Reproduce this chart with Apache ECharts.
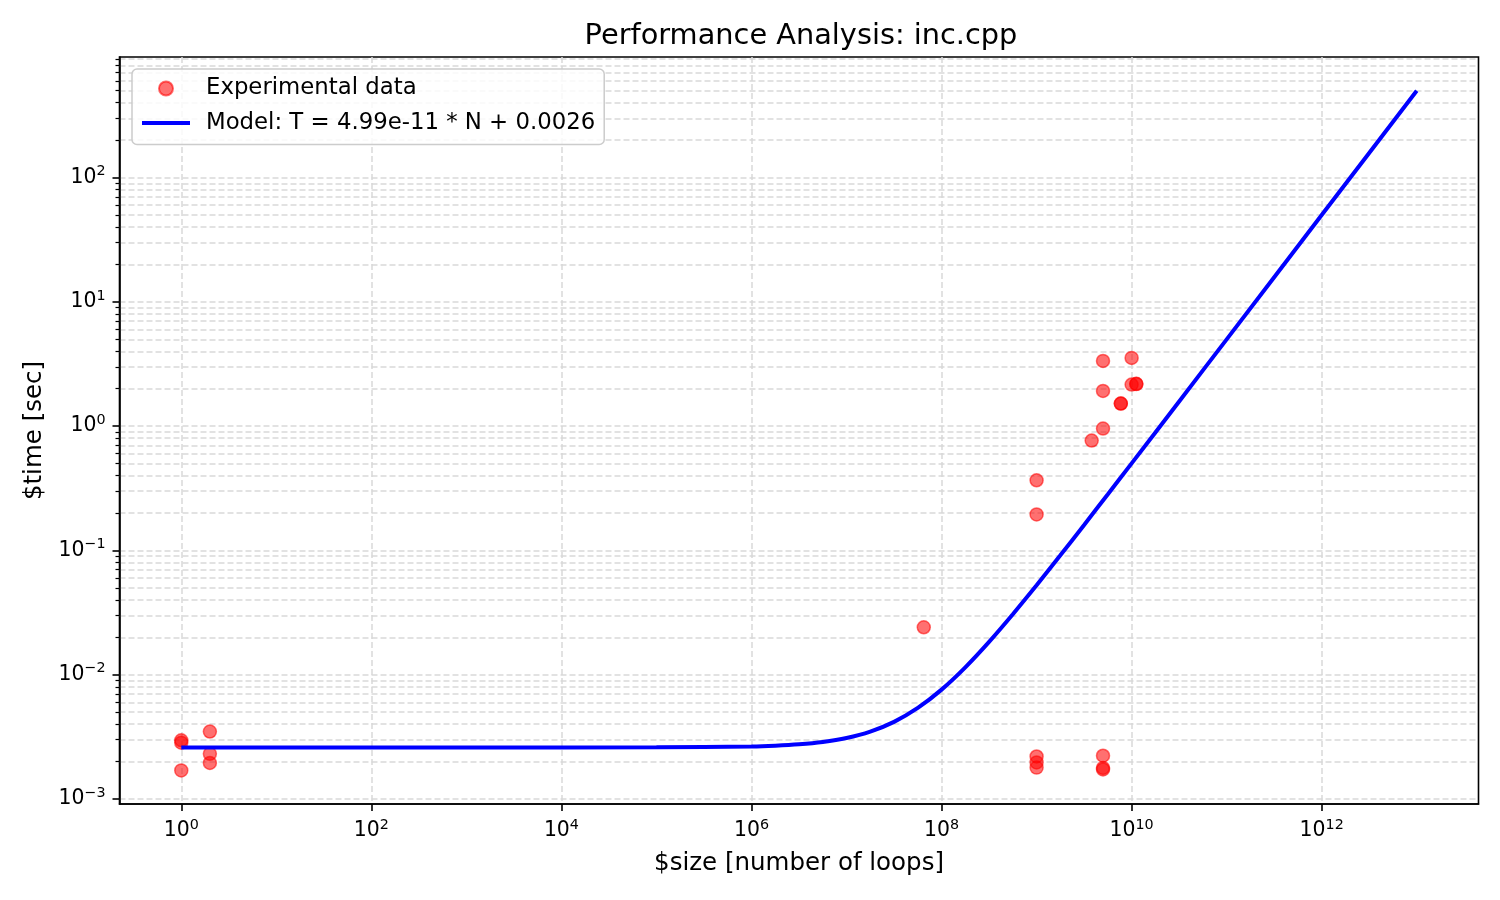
<!DOCTYPE html>
<html><head><meta charset="utf-8">
<script src="https://cdn.jsdelivr.net/npm/echarts@6/dist/echarts.min.js"></script>
<style>html,body{margin:0;padding:0;background:#fff}#c{width:1500px;height:900px}</style>
</head><body><div id="c"></div>
<script>
const sizeN = [1, 1, 1, 2, 2, 2, 6.5e7, 1e9, 1e9, 1e9, 1e9, 1e9, 3.8e9, 5e9, 5e9, 5e9, 5e9, 5e9, 5e9, 7.7e9, 7.7e9, 1e10, 1e10, 1.12e10, 1.12e10];
const timeT = [0.00297, 0.00284, 0.0017, 0.00349, 0.00231, 0.00195, 0.0241, 0.367, 0.195, 0.0022, 0.00197, 0.00179, 0.766, 3.35, 1.92, 0.957, 0.00223, 0.00178, 0.00173, 1.52, 1.52, 3.54, 2.16, 2.18, 2.19];
// Model curve samples
const modelN = [1, 1e3, 1e5, 1e6, 1.7783e6, 3.1623e6, 5.6234e6, 1e7, 1.7783e7, 3.1623e7, 5.6234e7, 1e8, 1.7783e8, 3.1623e8, 5.6234e8, 1e9, 1.7783e9, 3.1623e9, 5.6234e9, 1e10, 3.1623e10, 1e11, 1e12, 1e13];
const modelT = [0.0026, 0.0026, 0.002605, 0.00265, 0.0026887, 0.0027578, 0.0028806, 0.003099, 0.0034874, 0.004178, 0.0054061, 0.00759, 0.0114737, 0.01838, 0.030661, 0.0525, 0.091337, 0.1604, 0.28321, 0.5016, 1.5806, 4.9926, 49.9026, 499.0026];
// Tick labels (exponents of 10)
const xTickExps = [0, 2, 4, 6, 8, 10, 12];
const yTickExps = [-3, -2, -1, 0, 1, 2];
const yMinorMultipliers = [2, 3, 4, 5, 6, 7, 8, 9];

const yMinorVals = [];
yTickExps.forEach(e => yMinorMultipliers.forEach(k => yMinorVals.push(e + Math.log10(k))));

const supLabel = v => {
  const e = Math.round(v);
  return '{b|10}{e|' + (e < 0 ? '\u2212' + (-e) : String(e)) + '}';
};
const FONT = 'DejaVu Sans';
const rich = {
  b: { fontSize: 20.4, color: '#000', fontFamily: FONT },
  e: { fontSize: 14.3, color: '#000', fontFamily: FONT, padding: [0, 0, 12, 0] }
};
const gridLine = { show: true, lineStyle: { type: [6, 3], color: '#d9d9d9', width: 1.5 } };
const tickStyle = { color: '#000', width: 1.6 };

const chart = echarts.init(document.getElementById('c'), null, { renderer: 'canvas' });
chart.setOption({
  animation: false,
  textStyle: { fontFamily: FONT },
  title: {
    text: 'Performance Analysis: inc.cpp',
    left: 796, top: 17, textAlign: 'center',
    textStyle: { fontSize: 28.8, fontWeight: 'normal', color: '#000', fontFamily: FONT }
  },
  grid: { left: 119.5, right: 21.5, top: 57, bottom: 96, show: true, borderColor: '#000', borderWidth: 1.6, backgroundColor: 'transparent' },
  legend: {
    left: 132, top: 69, orient: 'vertical',
    padding: [8, 9, 10, 8], itemGap: 11.5, itemWidth: 48, itemHeight: 14,
    backgroundColor: 'rgba(255,255,255,0.85)', borderColor: '#cccccc', borderWidth: 1.5, borderRadius: 5,
    textStyle: { fontSize: 22.8, color: '#000', fontFamily: FONT, padding: [0, 0, 0, 11] },
    data: [
      { name: 'Experimental data', icon: 'circle' },
      { name: 'Model: T = 4.99e-11 * N + 0.0026', itemStyle: { color: 'rgba(0,0,0,0)', borderWidth: 0, opacity: 0 }, lineStyle: { width: 4, color: '#0000ff' } }
    ]
  },
  xAxis: {
    type: 'value', min: -0.65, max: 13.65,
    axisLine: { show: true, onZero: false, lineStyle: tickStyle },
    axisTick: { show: true, customValues: xTickExps, length: 7, lineStyle: tickStyle },
    axisLabel: { customValues: xTickExps, formatter: supLabel, rich: rich, margin: 14 },
    splitLine: gridLine,
    name: '$size [number of loops]', nameLocation: 'middle', nameGap: 47,
    nameTextStyle: { fontSize: 24.5, color: '#000', fontFamily: FONT }
  },
  yAxis: [{
    type: 'value', min: -3.04, max: 2.97,
    axisLine: { show: true, onZero: false, lineStyle: tickStyle },
    axisTick: { show: true, customValues: yTickExps, length: 7, lineStyle: tickStyle },
    axisLabel: { customValues: yTickExps, formatter: supLabel, rich: rich, margin: 14 },
    splitLine: gridLine,
    name: '$time [sec]', nameLocation: 'middle', nameGap: 72,
    nameTextStyle: { fontSize: 24.5, color: '#000', fontFamily: FONT }
  }, {
    type: 'value', min: -3.04, max: 2.97, position: 'left', offset: 0,
    axisLine: { show: false, onZero: false },
    axisTick: { show: true, customValues: yMinorVals, length: 4, lineStyle: { color: '#000', width: 1.2 } },
    axisLabel: { show: false },
    splitLine: gridLine
  }],
  series: [{
    name: 'Experimental data', type: 'scatter', xAxisIndex: 0, yAxisIndex: 0,
    symbolSize: 13, z: 2,
    itemStyle: { color: 'rgba(255,0,0,0.7)', borderColor: 'rgba(255,0,0,0.7)', borderWidth: 1.5 },
    data: sizeN.map((n, i) => [Math.log10(n), Math.log10(timeT[i])])
  }, {
    name: 'Model: T = 4.99e-11 * N + 0.0026', type: 'line', xAxisIndex: 0, yAxisIndex: 0,
    symbol: 'none', showSymbol: false, z: 3, smooth: 0.2,
    lineStyle: { color: '#0000ff', width: 4 }, itemStyle: { color: '#0000ff' },
    data: modelN.map((n, i) => [Math.log10(n), Math.log10(modelT[i])])
  }]
});
</script>
</body></html>
